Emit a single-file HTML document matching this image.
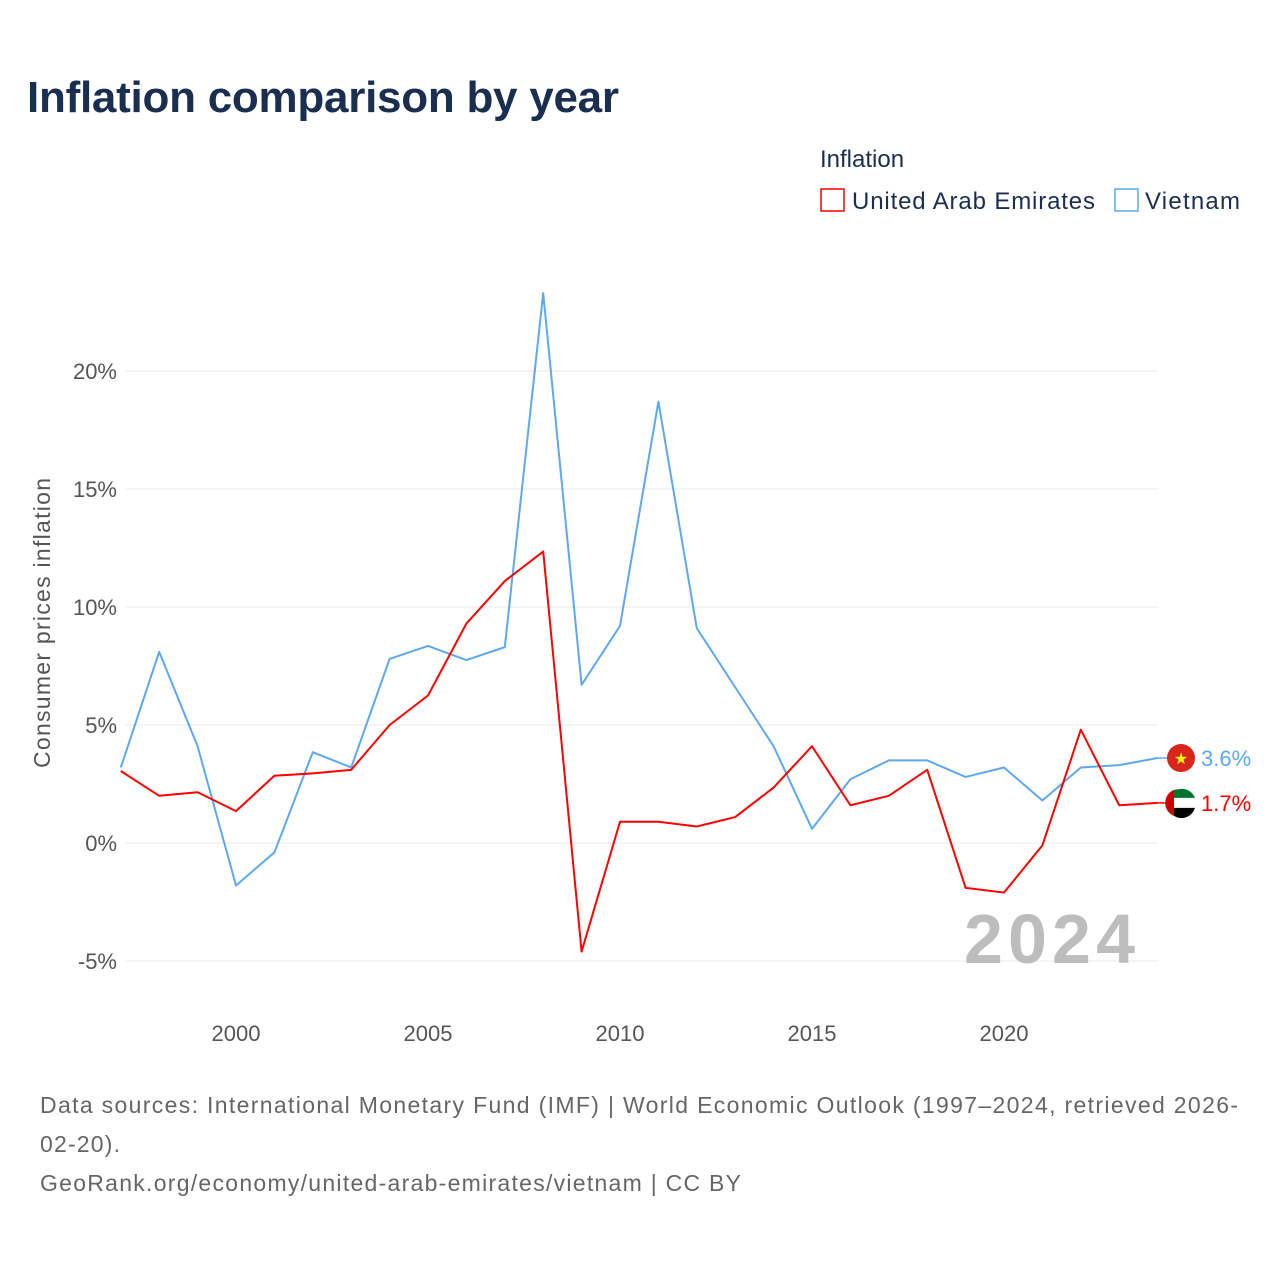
<!DOCTYPE html>
<html><head><meta charset="utf-8"><style>
body{margin:0;background:#fff;font-family:"Liberation Sans",sans-serif}
svg text{font-family:"Liberation Sans",sans-serif}
</style></head><body>
<svg id="c" width="1280" height="1280" xmlns="http://www.w3.org/2000/svg">
<rect width="1280" height="1280" fill="#fff"/>
<text x="27" y="112" font-size="44" font-weight="bold" fill="#1a2e50" textLength="592">Inflation comparison by year</text>
<text x="820" y="167" font-size="24" fill="#1a2e50">Inflation</text>
<g><rect x="821" y="189" width="23" height="22" fill="none" stroke="#f00" stroke-width="1.5"/><text x="852" y="209" font-size="24" fill="#1a2e50" textLength="243">United Arab Emirates</text></g>
<g><rect x="1115" y="189" width="23" height="22" fill="none" stroke="#5da8ef" stroke-width="1.5"/><text x="1145" y="209" font-size="24" fill="#1a2e50" textLength="95">Vietnam</text></g>
<g id="grid"></g>
<text transform="translate(50,623) rotate(-90)" text-anchor="middle" font-size="23" fill="#555" textLength="290">Consumer prices inflation</text>
<text x="964" y="963" font-size="70" font-weight="bold" fill="#bdbdbd" textLength="171">2024</text>
<g id="series"></g>
<text x="40" y="1113" font-size="23" fill="#666" textLength="1198">Data sources: International Monetary Fund (IMF) | World Economic Outlook (1997–2024, retrieved 2026-</text>
<text x="40" y="1152" font-size="23" fill="#666" textLength="80">02-20).</text>
<text x="40" y="1191" font-size="23" fill="#666" textLength="701">GeoRank.org/economy/united-arab-emirates/vietnam | CC BY</text>
</svg>
<script>
const years=[1997,1998,1999,2000,2001,2002,2003,2004,2005,2006,2007,2008,2009,2010,2011,2012,2013,2014,2015,2016,2017,2018,2019,2020,2021,2022,2023,2024];
const uae=[3.05,2.0,2.15,1.35,2.85,2.95,3.1,5.0,6.25,9.3,11.1,12.35,-4.6,0.9,0.9,0.7,1.1,2.35,4.1,1.6,2.0,3.1,-1.9,-2.1,-0.1,4.8,1.6,1.7];
const vietnam=[3.2,8.1,4.1,-1.8,-0.4,3.85,3.2,7.8,8.35,7.75,8.3,23.3,6.7,9.2,18.7,9.1,6.6,4.1,0.6,2.7,3.5,3.5,2.8,3.2,1.8,3.2,3.3,3.6];
const yTicks=[-5,0,5,10,15,20];
const xTicks=[2000,2005,2010,2015,2020];
const X=y=>120.8+(y-1997)*38.4;
const Y=v=>843-v*23.6;
const NS="http://www.w3.org/2000/svg";
function mk(t,a,p){const e=document.createElementNS(NS,t);for(const k in a)e.setAttribute(k,a[k]);p.appendChild(e);return e;}
const grid=document.getElementById('grid'),ser=document.getElementById('series');
yTicks.forEach(v=>{
 const l=mk('line',{x1:125,x2:1157,y1:Y(v),y2:Y(v),stroke:'#e8e8e8','stroke-width':1},grid);
 
 
 const t=mk('text',{x:117,y:Y(v)+8,'text-anchor':'end','font-size':22,fill:'#555'},grid);
 t.textContent=v+'%';
 
 
});
xTicks.forEach(y=>{
 const t=mk('text',{x:X(y),y:1041,'text-anchor':'middle','font-size':22,fill:'#555'},grid);
 t.textContent=y;
 
 
});
function line(vals,col,name){
 const p=mk('polyline',{points:vals.map((v,i)=>X(years[i])+','+Y(v)).join(' '),fill:'none',stroke:col,'stroke-width':2,'stroke-linejoin':'round'},ser);
 
 
}
line(vietnam,'#5da8ef','vietnam-line');
line(uae,'#f00','uae-line');
function endLabel(v,col,name,flag){
 const y=Y(v),g=mk('g',{},ser);
 
 
 mk('line',{x1:1157,x2:1167,y1:y,y2:y,stroke:col,'stroke-width':1.5},g);
 if(flag==='vn'){mk('circle',{cx:1181,cy:y,r:14,fill:'#da251d'},g);const s=mk('text',{x:1181,y:y+6,'text-anchor':'middle','font-size':16,fill:'#ff0'},g);s.textContent='★';}
 else{mk('circle',{cx:1181,cy:y,r:14,fill:'#fff'},g);
  mk('path',{d:`M1181 ${y-14} A14 14 0 0 1 1195 ${y-5} L1174 ${y-5} L1174 ${y-13} Z`,fill:'#00732f'},g);
  mk('path',{d:`M1174 ${y+5} L1195 ${y+5} A14 14 0 0 1 1174 ${y+13} Z`,fill:'#000'},g);
  mk('path',{d:`M1174 ${y-13} A14 14 0 0 0 1174 ${y+13} Z`,fill:'#c00'},g);}
 const t=mk('text',{x:1201,y:y+8,'font-size':22,fill:col},g);
 t.textContent=v.toFixed(1)+'%';
}
endLabel(vietnam[vietnam.length-1],'#5da8ef','vietnam-end-label','vn');
endLabel(uae[uae.length-1],'#f00','uae-end-label','ae');
</script>
</body></html>
